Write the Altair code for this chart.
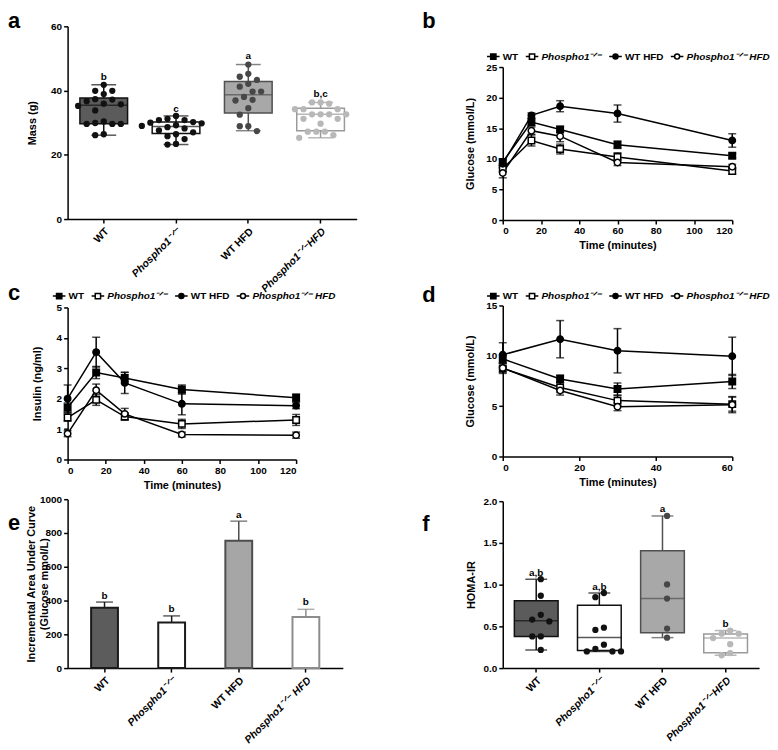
import altair as alt
import pandas as pd

FONT = "Liberation Sans"
SUP = "\u207b\u141f\u207b"
KO = "Phospho1" + SUP

# ---------------- panel a : body mass (g) ----------------
a_groups = ["WT", KO, "WT HFD", KO + "HFD"]
a_wt = [41.8, 39.9, 39.9, 38.9, 37.3, 37.2, 36.7, 35.9, 35.7, 35.2, 33.8, 30.4, 29.9, 29.6, 29.6, 29.6, 26.4, 26.1]
a_ko = [32.1, 31.2, 30.8, 30.8, 30.2, 30.0, 29.8, 29.2, 29.0, 28.6, 28.2, 27.6, 27.0, 26.4, 25.8, 24.9, 23.4, 23.2]
a_wthfd = [48.1, 45.2, 44.3, 43.3, 42.1, 41.2, 39.7, 39.7, 38.0, 37.1, 36.9, 34.5, 32.5, 28.9, 28.9, 27.4]
a_kohfd = [36.3, 36.3, 35.9, 34.2, 34.2, 34.2, 32.6, 32.6, 32.6, 32.6, 31.2, 31.2, 29.7, 27.2, 27.2, 27.2, 26.1, 25.3]
a_q1 = [29.7, 26.6, 33.0, 27.5]
a_med = [35.4, 28.8, 38.7, 32.6]
a_q3 = [37.7, 30.2, 42.8, 34.5]
a_lo = [26.1, 23.2, 27.5, 25.3]
a_hi = [41.8, 32.1, 48.1, 36.3]
a_letters = ["b", "c", "a", "b,c"]
a_letter_y = [44.3, 34.4, 50.8, 38.8]

# ---------------- panel f : HOMA-IR ----------------
f_groups = ["WT", KO, "WT HFD", KO + "HFD"]
f_wt = [1.066, 0.867, 0.638, 0.582, 0.559, 0.379, 0.379, 0.218]
f_ko = [0.90, 0.85, 0.484, 0.458, 0.281, 0.23, 0.20, 0.20, 0.20]
f_wthfd = [1.823, 1.002, 0.833, 0.473, 0.365]
f_kohfd = [0.45, 0.413, 0.413, 0.36, 0.286, 0.18, 0.154]
f_q1 = [0.379, 0.21, 0.424, 0.184]
f_med = [0.567, 0.368, 0.833, 0.36]
f_q3 = [0.807, 0.754, 1.407, 0.41]
f_lo = [0.218, 0.199, 0.365, 0.154]
f_hi = [1.066, 0.90, 1.823, 0.45]
f_letters = ["a,b", "a,b", "a", "b"]
f_letter_y = [1.14, 0.97, 1.906, 0.53]

# ---------------- panel e : incremental AUC ----------------
e_groups = ["WT", KO, "WT HFD", KO + " HFD"]
e_mean = [357, 270, 754, 302]
e_sem = [34, 39, 116, 46]
e_letters = ["b", "b", "a", "b"]
e_letter_y = [426, 348, 907, 394]

# ---------------- line panels ----------------
series = ["WT", KO, "WT HFD", KO + " HFD"]
t_long = [0, 15, 30, 60, 120]
t_short = [0, 15, 30, 60]

b_mean = [[9.5, 16.0, 14.8, 12.3, 10.5],
          [8.4, 13.0, 11.6, 10.3, 8.0],
          [9.2, 17.1, 18.6, 17.4, 13.0],
          [7.7, 14.6, 13.7, 9.4, 8.7]]
b_sem = [[0.5, 0.6, 0.5, 0.6, 0.4],
         [0.5, 0.9, 0.8, 0.7, 0.5],
         [0.6, 0.4, 0.9, 1.4, 1.1],
         [0.8, 0.6, 0.9, 0.5, 0.4]]

c_mean = [[1.71, 2.86, 2.68, 2.30, 2.03],
          [1.38, 1.96, 1.41, 1.17, 1.30],
          [2.00, 3.53, 2.52, 1.83, 1.77],
          [0.85, 2.28, 1.50, 0.82, 0.80]]
c_sem = [[0.15, 0.20, 0.18, 0.15, 0.12],
         [0.12, 0.18, 0.12, 0.15, 0.18],
         [0.45, 0.49, 0.35, 0.36, 0.10],
         [0.10, 0.20, 0.18, 0.08, 0.10]]

d_mean = [[9.7, 7.7, 6.7, 7.45],
          [8.75, 6.85, 5.55, 5.2],
          [10.1, 11.65, 10.5, 9.95],
          [8.8, 6.55, 4.95, 5.15]]
d_sem = [[0.4, 0.4, 0.6, 0.7],
         [0.5, 0.5, 0.5, 0.7],
         [1.2, 1.85, 2.2, 1.9],
         [0.45, 0.45, 0.4, 0.8]]

BOX_FILLS = ["#5b5b5b", "#ffffff", "#a8a8a8", "#ffffff"]
BOX_STROKES = ["#111111", "#111111", "#505050", "#9a9a9a"]
PT_COLORS = ["#111111", "#111111", "#474747", "#b8b8b8"]
BAR_FILLS = ["#5c5c5c", "#ffffff", "#a6a6a6", "#ffffff"]
BAR_STROKES = ["#1a1a1a", "#1a1a1a", "#4d4d4d", "#8c8c8c"]
MARK_FILLS = ["black", "white", "black", "white"]
LEG_PATHS = [
    "M-1,0H-0.42M0.42,0H1M-0.42,-0.42H0.42V0.42H-0.42Z",
    "M-1,0H-0.42M0.42,0H1M-0.42,-0.42H0.42V0.42H-0.42Z",
    "M-1,0H-0.4M0.4,0H1M-0.4,0A0.4,0.4 0 1,1 0.4,0A0.4,0.4 0 1,1 -0.4,0Z",
    "M-1,0H-0.4M0.4,0H1M-0.4,0A0.4,0.4 0 1,1 0.4,0A0.4,0.4 0 1,1 -0.4,0Z",
]
ITALIC_TEST = "indexof(datum.value, 'Phospho') >= 0"


def swarm(values, ppu, d=8.6):
    cands = [0.0]
    for k in range(1, 14):
        cands += [-k * d / 2, k * d / 2]
    order = sorted(range(len(values)), key=lambda i: -values[i])
    res = [0.0] * len(values)
    placed = []
    for i in order:
        y = values[i] * ppu
        for c in cands:
            if all((c - px) ** 2 + (y - py) ** 2 >= (0.97 * d) ** 2 for px, py in placed):
                placed.append((c, y))
                res[i] = c
                break
    return res


def panel_letter(ch, dx, dy):
    return alt.Chart(pd.DataFrame({"t": [ch]})).mark_text(
        font=FONT, fontSize=22, fontWeight="bold", align="left",
        baseline="alphabetic", color="black"
    ).encode(text="t:N", x=alt.value(dx), y=alt.value(dy))


def cat_axis():
    return alt.Axis(
        title=None, labelAngle=-45, labelFontSize=10.5, labelPadding=3,
        labelFontStyle={"condition": {"test": ITALIC_TEST, "value": "italic"}, "value": "normal"},
    )


def box_panel(cats, pts, q1, med, q3, lo, hi, labs, laby, ymax, yticks, yfmt, ytitle,
              title_x, w, h, pad, boxw, capw, letter, ldx, ldy):
    stats = pd.DataFrame(dict(g=cats, q1=q1, med=med, q3=q3, lo=lo, hi=hi, lab=labs, ly=laby))
    ppu = h / ymax
    rows = []
    for c, vals in zip(cats, pts):
        for v, o in zip(vals, swarm(vals, ppu)):
            rows.append(dict(g=c, v=v, o=o))
    pdf = pd.DataFrame(rows)
    bw = w / (len(cats) + 2 * pad)
    X = alt.X("g:N", sort=cats, scale=alt.Scale(domain=cats, paddingInner=0, paddingOuter=pad),
              axis=cat_axis())
    ysc = alt.Scale(domain=[0, ymax], nice=False)
    yax = alt.Axis(values=yticks, format=yfmt, title=ytitle, titleX=title_x)

    def Y(f):
        return alt.Y(f + ":Q", scale=ysc, axis=yax)

    def scol():
        return alt.Color("g:N", scale=alt.Scale(domain=cats, range=BOX_STROKES), legend=None)

    sb = alt.Chart(stats)
    whisk = sb.mark_rule(strokeWidth=1.5).encode(x=X, y=Y("lo"), y2="hi:Q", color=scol())
    cap_lo = sb.mark_tick(orient="horizontal", size=capw, thickness=1.5).encode(x=X, y=Y("lo"), color=scol())
    cap_hi = sb.mark_tick(orient="horizontal", size=capw, thickness=1.5).encode(x=X, y=Y("hi"), color=scol())
    box = sb.mark_bar(size=boxw, strokeWidth=1.5).encode(
        x=X, y=Y("q1"), y2="q3:Q",
        fill=alt.Fill("g:N", scale=alt.Scale(domain=cats, range=BOX_FILLS), legend=None),
        stroke=alt.Stroke("g:N", scale=alt.Scale(domain=cats, range=BOX_STROKES), legend=None),
    )
    medl = sb.mark_tick(orient="horizontal", size=boxw, thickness=1.5).encode(x=X, y=Y("med"), color=scol())
    dots = alt.Chart(pdf).mark_circle(size=40, opacity=1).encode(
        x=X,
        xOffset=alt.XOffset("o:Q", scale=alt.Scale(domain=[-60, 60], range=[bw / 2 - 60, bw / 2 + 60])),
        y=Y("v"),
        color=alt.Color("g:N", scale=alt.Scale(domain=cats, range=PT_COLORS), legend=None),
    )
    txt = sb.mark_text(font=FONT, fontSize=10, fontWeight="bold", color="black").encode(
        x=X, y=Y("ly"), text="lab:N")
    return alt.layer(whisk, cap_lo, cap_hi, box, medl, dots, txt, panel_letter(letter, ldx, ldy)).resolve_scale(
        color="independent").properties(width=w, height=h)


def line_panel(times, means, sems, xmax, xticks, ymax, yticks, ytitle, title_x, w, h,
               legx, legy, letter, ldx, ldy):
    rows = []
    for n, m, e in zip(series, means, sems):
        for t, v, s in zip(times, m, e):
            rows.append(dict(s=n, t=t, m=v, lo=v - s, hi=v + s))
    df = pd.DataFrame(rows)
    X = alt.X("t:Q", scale=alt.Scale(domain=[0, xmax], nice=False, zero=False),
              axis=alt.Axis(values=xticks, title="Time (minutes)", format="d"))
    ysc = alt.Scale(domain=[0, ymax], nice=False)
    yax = alt.Axis(values=yticks, title=ytitle, titleX=title_x, format="d")

    def Y(f):
        return alt.Y(f + ":Q", scale=ysc, axis=yax)

    base = alt.Chart(df)
    err = base.mark_rule(color="black", strokeWidth=1.5).encode(x=X, y=Y("lo"), y2="hi:Q")
    cap_lo = base.mark_tick(orient="horizontal", size=8, thickness=1.5, color="black").encode(x=X, y=Y("lo"))
    cap_hi = base.mark_tick(orient="horizontal", size=8, thickness=1.5, color="black").encode(x=X, y=Y("hi"))
    line = base.mark_line(color="black", strokeWidth=1.5).encode(
        x=X, y=Y("m"), detail="s:N", order="t:Q")
    pts = base.mark_point(size=42, strokeWidth=1.5, opacity=1, stroke="black").encode(
        x=X, y=Y("m"),
        shape=alt.Shape("s:N", scale=alt.Scale(domain=series, range=["square", "square", "circle", "circle"]),
                        legend=None),
        fill=alt.Fill("s:N", scale=alt.Scale(domain=series, range=MARK_FILLS), legend=None),
    )
    leg = alt.Legend(
        orient="none", legendX=legx, legendY=legy, direction="horizontal", title=None,
        symbolOpacity=1, symbolStrokeColor="black", symbolStrokeWidth=1.5, symbolSize=160,
        labelFont=FONT, labelFontWeight="bold", labelFontSize=10, labelColor="black",
        columnPadding=4, labelOffset=2, padding=0, gridAlign="none",
        labelFontStyle=alt.ExprRef("indexof(datum.label, 'Phospho') >= 0 ? 'italic' : 'normal'"),
    )
    legend_layer = base.transform_filter(alt.datum.t == 0).mark_point(
        size=160, opacity=0, strokeWidth=1.5).encode(
        x=X, y=Y("m"),
        shape=alt.Shape("s:N", scale=alt.Scale(domain=series, range=LEG_PATHS), legend=leg),
        fill=alt.Fill("s:N", scale=alt.Scale(domain=series, range=MARK_FILLS), legend=leg),
        stroke=alt.Stroke("s:N", scale=alt.Scale(domain=series, range=["black"] * 4), legend=leg),
    )
    return alt.layer(err, cap_lo, cap_hi, line, pts, legend_layer, panel_letter(letter, ldx, ldy)).resolve_scale(
        shape="independent", fill="independent", stroke="independent").properties(width=w, height=h)


def bar_panel(w, h, pad, letter, ldx, ldy):
    df = pd.DataFrame(dict(g=e_groups, m=e_mean, hi=[m + s for m, s in zip(e_mean, e_sem)],
                           lab=e_letters, ly=e_letter_y, fc=BAR_FILLS, sc=BAR_STROKES))
    X = alt.X("g:N", sort=e_groups, scale=alt.Scale(domain=e_groups, paddingInner=0, paddingOuter=pad),
              axis=cat_axis())
    ysc = alt.Scale(domain=[0, 1000], nice=False)
    yax = alt.Axis(values=[0, 200, 400, 600, 800, 1000], format="d",
                   title=["Incremental Area Under Curve", "(Glucose mmol/L)"], titleX=-31)

    def Y(f):
        return alt.Y(f + ":Q", scale=ysc, axis=yax)

    base = alt.Chart(df)
    err = base.mark_rule(strokeWidth=1.5).encode(x=X, y=Y("m"), y2="hi:Q",
                                                 color=alt.Color("sc:N", scale=None))
    cap = base.mark_tick(orient="horizontal", size=17, thickness=1.5).encode(
        x=X, y=Y("hi"), color=alt.Color("sc:N", scale=None))
    bars = base.mark_bar(size=27, strokeWidth=2).encode(
        x=X, y=Y("m"),
        fill=alt.Fill("fc:N", scale=None),
        stroke=alt.Stroke("sc:N", scale=None),
    )
    txt = base.mark_text(font=FONT, fontSize=10, fontWeight="bold", color="black").encode(
        x=X, y=Y("ly"), text="lab:N")
    return alt.layer(err, cap, bars, txt, panel_letter(letter, ldx, ldy)).properties(width=w, height=h)


def spacer(h):
    return alt.Chart(pd.DataFrame({"v": [0]})).mark_point(opacity=0, size=1).encode(
        x=alt.X("v:Q", axis=None), y=alt.Y("v:Q", axis=None)).properties(width=1, height=h)


chart_a = box_panel(a_groups, [a_wt, a_ko, a_wthfd, a_kohfd], a_q1, a_med, a_q3, a_lo, a_hi,
                    a_letters, a_letter_y, 60, [0, 20, 40, 60], "d", "Mass (g)", -30,
                    291, 194, 0.0, 48, 25, "a", -60, 2)
chart_b = line_panel(t_long, b_mean, b_sem, 120, [0, 20, 40, 60, 80, 100, 120], 25, [0, 5, 10, 15, 20, 25],
                     "Glucose (mmol/L)", -27, 231, 154, -17, -18, "b", -81, -39)
chart_c = line_panel(t_long, c_mean, c_sem, 120, [0, 20, 40, 60, 80, 100, 120], 5, [0, 1, 2, 3, 4, 5],
                     "Insulin (ng/ml)", -25, 230, 153, -16, -19, "c", -60, -8)
chart_d = line_panel(t_short, d_mean, d_sem, 60, [0, 20, 40, 60], 15, [0, 5, 10, 15],
                     "Glucose (mmol/L)", -27, 231, 152, -17, -17, "d", -81, -3)
chart_e = bar_panel(277, 170, 0.05, "e", -60, 31)
chart_f = box_panel(f_groups, [f_wt, f_ko, f_wthfd, f_kohfd], f_q1, f_med, f_q3, f_lo, f_hi,
                    f_letters, f_letter_y, 2.0, [0, 0.5, 1.0, 1.5, 2.0], ".1f", "HOMA-IR", -26,
                    258, 168, 0.03, 44, 22, "f", -81, 30)

left = alt.vconcat(chart_a, spacer(89), chart_c, spacer(40), chart_e, spacing=0, bounds="flush")
right = alt.vconcat(spacer(41), chart_b, spacer(86), chart_d, spacer(45), chart_f, spacing=0, bounds="flush")

chart = alt.hconcat(left, right, spacing=438, bounds="flush").properties(
    padding=0, background="white"
).configure_view(stroke=None).configure_axis(
    domainColor="black", domainWidth=1.5, tickColor="black", tickWidth=1.5, tickSize=4,
    labelColor="black", labelFont=FONT, labelFontSize=10, labelFontWeight="bold", labelPadding=2,
    titleColor="black", titleFont=FONT, titleFontSize=11, titleFontWeight="bold", grid=False,
)

chart.save("out.html", embed_options={"renderer": "svg", "actions": False})
